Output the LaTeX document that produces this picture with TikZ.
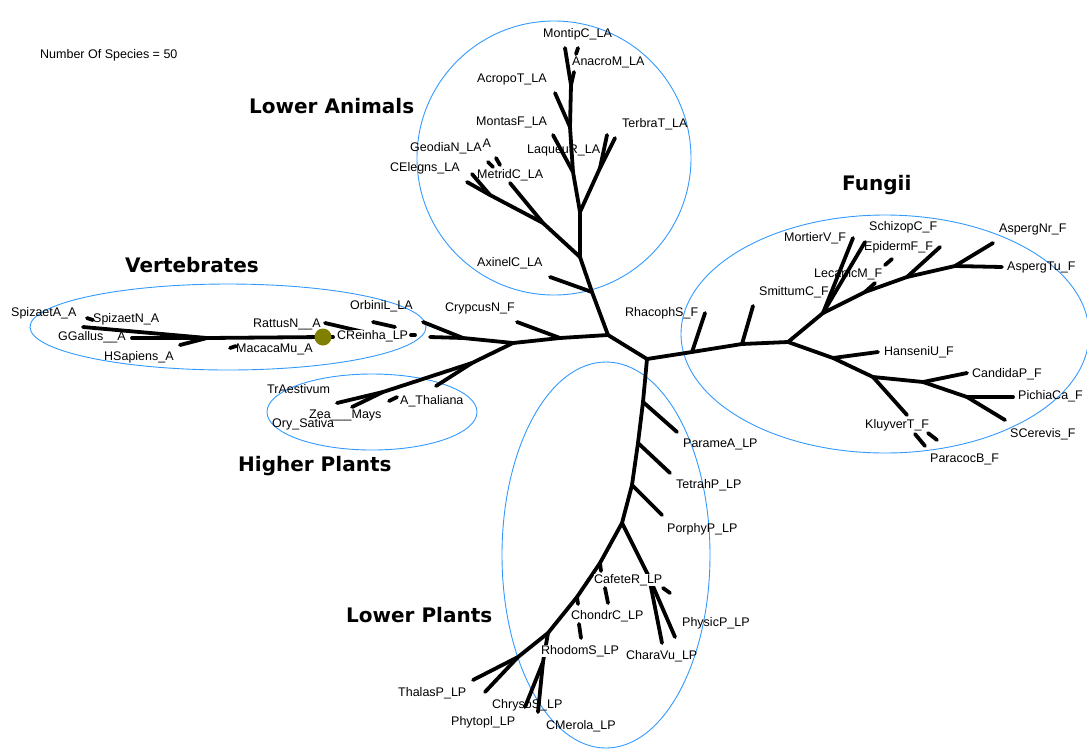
\documentclass[tikz,border=0pt]{standalone}
\usepackage{fontspec}
\setmainfont{Liberation Sans}
\newfontfamily\headfont{DejaVu Sans}
\definecolor{groupblue}{RGB}{51,153,255}
\definecolor{markolive}{RGB}{128,128,0}
\begin{document}
\begin{tikzpicture}[x=1pt,y=-1pt,
  lab/.style={font=\fontsize{12.5}{14}\selectfont, anchor=west, inner sep=0pt},
  coverlab/.style={lab, fill=white},
  head/.style={font=\headfont\bfseries\fontsize{20}{24}\selectfont, anchor=west, inner sep=0pt},
  br/.style={line width=3.8pt, line cap=round, line join=round},
  grp/.style={draw=groupblue, line width=0.9pt},
]
\useasboundingbox (0,0) rectangle (1087,748);

% ---------- group outlines ----------
\draw[grp] (554,158) ellipse [x radius=137, y radius=137];
\draw[grp] (228,327) ellipse [x radius=198, y radius=43];
\draw[grp] (372,412) ellipse [x radius=105, y radius=38];
\draw[grp] (885,334) ellipse [x radius=204, y radius=119];
\draw[grp] (606,555) ellipse [x radius=104, y radius=193];

% ---------- captions ----------
\node[lab] (nsp) at (40,55) {Number Of Species = 50};
\node[head] (gLA) at (249,106) {Lower Animals};
\node[head] (gV) at (125,265) {Vertebrates};
\node[head] (gF) at (842,185) {Fungii};
\node[head] (gHP) at (238,466) {Higher Plants};
\node[head] (gLP) at (346,615) {Lower Plants};

% ---------- leaf labels ----------
\node[lab] (nMtp) at (543,34) {MontipC\_LA};
\node[lab] (nAna) at (572,62) {AnacroM\_LA};
\node[lab] (nAcr) at (477,79) {AcropoT\_LA};
\node[lab] (nMon) at (476,122) {MontasF\_LA};
\node[lab] (nTer) at (622,124) {TerbraT\_LA};
\node[lab] (nGeo) at (410,148) {GeodiaN\_LA};
\node[lab] (nGeoA) at ([xshift=0.5pt,yshift=5pt]nGeo.east) {A};
\node[lab] (nLaq) at (527,150) {LaqueuR\_LA};
\node[lab] (nCEl) at (390,168) {CElegns\_LA};
\node[lab] (nMet) at (477,175) {MetridC\_LA};
\node[lab] (nAxi) at (477,263) {AxinelC\_LA};
\node[lab] (nOrb) at (350,306) {OrbiniL\_LA};
\node[lab] (nCry) at (445,308) {CrypcusN\_F};
\node[lab] (nRha) at (625,313) {RhacophS\_F};
\node[lab] (nSpA) at (11,313) {SpizaetA\_A};
\node[lab] (nSpN) at (93,319) {SpizaetN\_A};
\node[lab] (nRat) at (253,324) {RattusN\_\_A};
\node[lab] (nGG) at (58,337) {GGallus\_\_A};
\node[lab] (nMac) at (236,349) {MacacaMu\_A};
\node[lab] (nHS) at (104,357) {HSapiens\_A};
\node[lab] (nTrA) at (267,389) {TrAestivum};
\node[lab] (nAth) at (400,401) {A\_Thaliana};
\node[lab] (nZea) at (309,415) {Zea\_\_\_Mays};
\node[lab] (nOry) at (272,424) {Ory\_Sativa};
\node[lab] (nMor) at (784,238) {MortierV\_F};
\node[lab] (nSch) at (869,227) {SchizopC\_F};
\node[lab] (nEpi) at (864,247) {EpidermF\_F};
\node[lab] (nAsN) at (999,229) {AspergNr\_F};
\node[lab] (nAsT) at (1007,267) {AspergTu\_F};
\node[lab] (nLec) at (814,274) {LecanicM\_F};
\node[lab] (nSmi) at (759,292) {SmittumC\_F};
\node[lab] (nHan) at (884,352) {HanseniU\_F};
\node[lab] (nCan) at (972,374) {CandidaP\_F};
\node[lab] (nPic) at (1018,396) {PichiaCa\_F};
\node[lab] (nKlu) at (865,425) {KluyverT\_F};
\node[lab] (nSCe) at (1010,434) {SCerevis\_F};
\node[lab] (nPcc) at (930,459) {ParacocB\_F};
\node[lab] (nPar) at (683,444) {ParameA\_LP};
\node[lab] (nTet) at (676,485) {TetrahP\_LP};
\node[lab] (nPor) at (667,529) {PorphyP\_LP};
\node[lab] (nCho) at (571,616) {ChondrC\_LP};
\node[lab] (nPhy) at (682,623) {PhysicP\_LP};
\node[lab] (nCha) at (626,656) {CharaVu\_LP};
\node[lab] (nTha) at (398,693) {ThalasP\_LP};
\node[lab] (nChr) at (492,705) {ChrysoS\_LP};
\node[lab] (nPhp) at (451,722) {Phytopl\_LP};
\node[lab] (nCMe) at (546,726) {CMerola\_LP};

% ---------- tree points ----------
% centre
\coordinate (c0) at (608,335);
\coordinate (c1) at (647,359);
% lower animals
\coordinate (la0) at (592,292);
\coordinate (la1) at (580,257);
\coordinate (la2) at (580,212);
\coordinate (la3) at (573,172);
\coordinate (la4) at (570,127);
\coordinate (la5) at (571,85);
\coordinate (tAxi) at (550,277);
\coordinate (lA) at (543,223);
\coordinate (tMet) at (510,183);
\coordinate (lB) at (490,195);
\coordinate (tCEl) at (467,182);
\coordinate (tCE2) at (472,174);
\coordinate (tb) at (600,168);
\coordinate (tTer1) at (615,138);
\coordinate (tTer2) at (607,135);
\coordinate (tMon) at (553,135);
\coordinate (tAcr) at (555,93);
\coordinate (tMtp) at (565,48);
\coordinate (tAna) at (574,72);
\coordinate (dAna1) at (576,54);
\coordinate (dAna2) at (578,48);
\coordinate (dGeo1) at (488,162);
\coordinate (dGeo2) at (493,167);
\coordinate (dGeo3) at (496,158);
\coordinate (dGeo4) at (500,165);
% left arm and vertebrates
\coordinate (l1) at (560,338);
\coordinate (tCry) at (517,322);
\coordinate (l2) at (513,343);
\coordinate (l3) at (463,338);
\coordinate (tOrb) at (423,322);
\coordinate (l4) at (430,337);
\coordinate (s1) at (411,335);
\coordinate (s2) at (415,335);
\coordinate (tRat) at (325,323);
\coordinate (vR) at (368,333);
\coordinate (vE) at (333,337);
\coordinate (vdot) at (323,337);
\coordinate (v1) at (207,338);
\coordinate (tSpA) at (83,327);
\coordinate (tGG) at (132,338);
\coordinate (tHS) at (180,345);
\coordinate (dSp1) at (87,318);
\coordinate (dSp2) at (93,320);
\coordinate (dMa1) at (230,348);
\coordinate (dMa2) at (236,346);
\coordinate (dOr1) at (373,322);
\coordinate (dOr2) at (395,327);
% higher plants
\coordinate (h1) at (472,363);
\coordinate (tAth) at (436,386);
\coordinate (h2) at (383,392);
\coordinate (tTrA) at (337,403);
\coordinate (tZea) at (352,407);
\coordinate (dAt1) at (389,401);
\coordinate (dAt2) at (397,397);
% fungi
\coordinate (f1) at (692,352);
\coordinate (tRha) at (705,313);
\coordinate (f2) at (742,344);
\coordinate (tSmi) at (753,306);
\coordinate (f3) at (788,342);
\coordinate (f4) at (823,313);
\coordinate (tMor) at (853,238);
\coordinate (tMo2) at (865,242);
\coordinate (f5) at (865,292);
\coordinate (tLec) at (875,283);
\coordinate (f6) at (907,277);
\coordinate (tEpi) at (940,247);
\coordinate (f7) at (955,266);
\coordinate (tAsN) at (993,243);
\coordinate (tAsT) at (1002,267);
\coordinate (dLe1) at (885,265);
\coordinate (dLe2) at (892,259);
\coordinate (f8) at (833,358);
\coordinate (tHan) at (878,352);
\coordinate (f9) at (873,377);
\coordinate (tKlu) at (907,415);
\coordinate (f10) at (923,382);
\coordinate (tCan) at (967,373);
\coordinate (f11) at (967,397);
\coordinate (tPic) at (1013,397);
\coordinate (tSCe) at (1005,420);
\coordinate (dPa1) at (915,434);
\coordinate (dPa2) at (925,446);
\coordinate (dPa3) at (928,433);
\coordinate (dPa4) at (937,440);
% lower plants
\coordinate (p1) at (643,402);
\coordinate (tPar) at (677,432);
\coordinate (p2) at (638,443);
\coordinate (tTet) at (670,473);
\coordinate (p3) at (632,485);
\coordinate (tPor) at (662,515);
\coordinate (p4) at (622,523);
\coordinate (p5) at (649,577);
\coordinate (tCh1) at (662,643);
\coordinate (tCh2) at (675,637);
\coordinate (p6) at (600,563);
\coordinate (p7) at (577,597);
\coordinate (p8) at (548,633);
\coordinate (p9) at (518,657);
\coordinate (tTha) at (473,680);
\coordinate (tPhp) at (485,692);
\coordinate (k6) at (601,571);
\coordinate (k7) at (578,604);
\coordinate (r1) at (543,662);
\coordinate (tCMe) at (538,712);
\coordinate (tChr) at (525,707);
\coordinate (dCf1) at (605,588);
\coordinate (dCf2) at (608,603);
\coordinate (dCo1) at (579,624);
\coordinate (dCo2) at (581,638);
\coordinate (dPh1) at (663,588);
\coordinate (dPh2) at (670,593);

% ---------- branches ----------
\foreach \a/\b in {
  c0/c1, c0/la0, la0/la1, la1/la2, la2/la3, la3/la4, la4/la5, la5/tMtp, la5/tAna,
  la0/tAxi, la1/lA, lA/tMet, lA/lB, lB/tCEl, lB/tCE2, la2/tb, tb/tTer1, tb/tTer2,
  la3/tMon, la4/tAcr, dAna1/dAna2, dGeo1/dGeo2, dGeo3/dGeo4,
  c0/l1, l1/tCry, l1/l2, l2/l3, l3/tOrb, l3/l4, s1/s2, tRat/vR, vE/vdot,
  vdot/v1, v1/tSpA, v1/tGG, v1/tHS, dSp1/dSp2, dMa1/dMa2, dOr1/dOr2,
  l2/h1, h1/tAth, h1/h2, h2/tTrA, h2/tZea, dAt1/dAt2,
  c1/f1, f1/tRha, f1/f2, f2/tSmi, f2/f3, f3/f4, f4/tMor, f4/tMo2, f4/f5, f5/tLec,
  f5/f6, f6/tEpi, f6/f7, f7/tAsN, f7/tAsT, dLe1/dLe2,
  f3/f8, f8/tHan, f8/f9, f9/tKlu, f9/f10, f10/tCan, f10/f11, f11/tPic, f11/tSCe,
  dPa1/dPa2, dPa3/dPa4,
  c1/p1, p1/tPar, p1/p2, p2/tTet, p2/p3, p3/tPor, p3/p4, p4/p5, p5/tCh1, p5/tCh2,
  p4/p6, p6/p7, p7/p8, p8/p9, p9/tTha, p9/tPhp, p6/k6, p7/k7, p8/r1, r1/tCMe, r1/tChr,
  dCf1/dCf2, dCo1/dCo2, dPh1/dPh2}
  \draw[br] (\a) -- (\b);

% labels that sit on top of their branches
\node[coverlab] (nCRe) at (337,336) {CReinha\_LP};
\node[coverlab] (nCaf) at (594,580) {CafeteR\_LP};
\node[coverlab] (nRho) at (541,651) {RhodomS\_LP};

% marked node
\node[circle, fill=markolive, minimum size=17pt, inner sep=0pt] (mark) at (vdot) {};
\end{tikzpicture}
\end{document}
